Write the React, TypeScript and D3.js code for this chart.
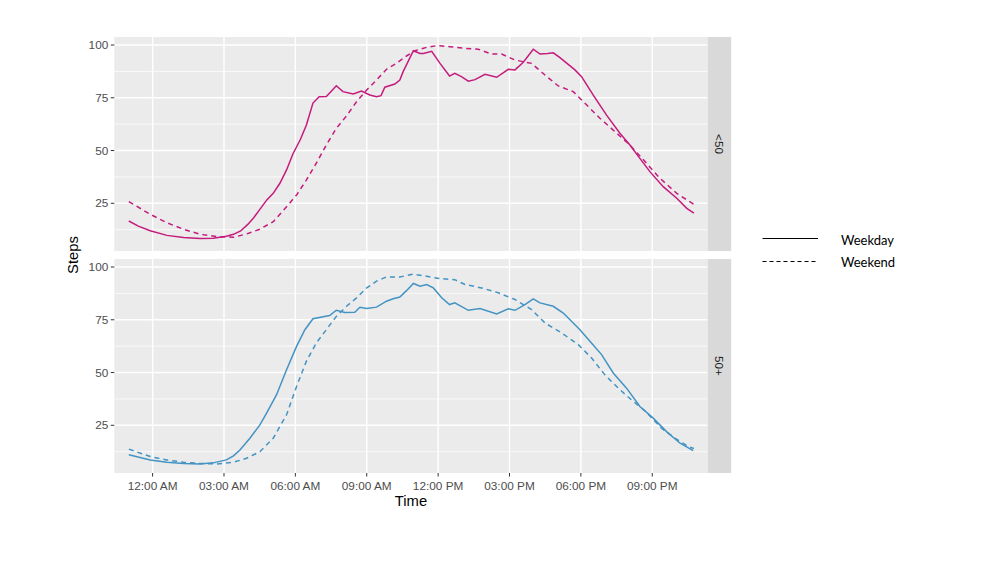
import React from 'react';
import * as d3 from 'd3';

// [hour of day, steps]
const youngWeekday: [number, number][] = [
  [-1, 16.6], [-0.6, 14.2], [-0.1, 12.0], [0.6, 9.8], [1.3, 8.8], [2.0, 8.3], [2.55, 8.4], [3.1, 9.4],
  [3.4, 10.3], [3.7, 11.9], [4.0, 15], [4.25, 18.2], [4.5, 22], [4.8, 26.6], [5.07, 29.7], [5.35, 34.5],
  [5.63, 40.8], [5.9, 48.5], [6.2, 55], [6.46, 62], [6.74, 72.5], [7.0, 75.5], [7.3, 75.6], [7.5, 78],
  [7.72, 80.7], [8.0, 77.9], [8.43, 76.8], [8.78, 78.2], [9.13, 76.3], [9.41, 75.5], [9.6, 76], [9.76, 80],
  [10.18, 81.5], [10.39, 83.4], [10.53, 87.4], [10.96, 97.3], [11.24, 96], [11.38, 96], [11.73, 97],
  [12.08, 91.3], [12.48, 85.3], [12.7, 86.6], [12.98, 85], [13.27, 82.9], [13.55, 83.6], [13.97, 86.1],
  [14.46, 84.7], [14.95, 88.5], [15.23, 88.2], [15.58, 91.8], [16.0, 98], [16.28, 95.7], [16.6, 96],
  [16.84, 96.3], [17.12, 94], [17.75, 88.2], [18.03, 85], [18.52, 76.3], [19.08, 66.8], [19.64, 58.2],
  [20.06, 52.6], [20.48, 46.3], [20.9, 40], [21.46, 32.9], [22.03, 27.4], [22.45, 22.6], [22.75, 20.3],
];

const youngWeekend: [number, number][] = [
  [-1, 25.8], [-0.1, 19.8], [0.6, 15.8], [1.3, 12.7], [2.0, 10.3], [2.7, 9.2], [3.4, 8.9], [3.95, 10.5],
  [4.5, 12.7], [5.07, 16.3], [5.63, 23.4], [6.05, 28.9], [6.46, 36], [6.88, 44], [7.3, 52.6], [7.72, 60.5],
  [8.15, 66.4], [8.57, 73.1], [9.0, 78.7], [9.41, 83.4], [9.83, 88.5], [10.25, 91.3], [10.67, 94.8],
  [11.03, 97.3], [11.52, 98.9], [11.94, 99.7], [12.48, 99.2], [13.13, 98.4], [13.69, 98], [14.25, 95.7],
  [14.67, 95.7], [15.23, 92.9], [15.93, 91.3], [16.49, 85.8], [17.05, 80.6], [17.68, 77.9], [18.17, 72.4],
  [18.8, 65.3], [19.36, 59.7], [20.06, 52.6], [20.76, 44], [21.32, 36.9], [22.03, 29.7], [22.75, 24.5],
];

const olderWeekday: [number, number][] = [
  [-1, 11], [-0.1, 8.6], [0.6, 7.5], [1.3, 6.9], [2.0, 6.7], [2.55, 7.2], [3.1, 8.6], [3.4, 10.5],
  [3.67, 13.3], [4.09, 18.9], [4.51, 25.2], [4.79, 30.8], [5.21, 39.5], [5.63, 51.3], [6.05, 62.4],
  [6.4, 70.3], [6.74, 75.5], [7.44, 77], [7.72, 79.5], [8.08, 78.5], [8.5, 78.6], [8.71, 80.9], [8.99, 80.3],
  [9.41, 81], [9.83, 83.8], [10.11, 85], [10.39, 85.8], [10.67, 88.8], [10.96, 92.2], [11.24, 90.9],
  [11.52, 91.7], [11.8, 90.1], [12.15, 85.4], [12.48, 82.2], [12.7, 83], [13.27, 79.5], [13.76, 80.3],
  [14.46, 77.8], [14.95, 80.2], [15.23, 79.5], [15.65, 82.2], [16.0, 84.9], [16.28, 83], [16.84, 81.4],
  [17.26, 78.2], [17.96, 70.3], [18.38, 64.8], [18.87, 58.5], [19.36, 49.8], [19.92, 42.6], [20.48, 33.9],
  [21.04, 28.4], [21.6, 22], [22.17, 16.5], [22.72, 13],
];

const olderWeekend: [number, number][] = [
  [-1, 13.7], [-0.1, 10.2], [0.6, 8.6], [1.3, 7.5], [2.0, 6.9], [2.7, 6.7], [3.4, 7.5], [3.95, 9.4],
  [4.51, 12.5], [5.07, 18.9], [5.63, 30], [6.05, 43.4], [6.46, 55.3], [6.88, 64], [7.3, 70.3], [7.72, 76.6],
  [8.15, 81.4], [8.57, 85.4], [9.0, 90.1], [9.41, 93.3], [9.83, 95.3], [10.39, 95.3], [10.96, 96.6],
  [11.52, 95.6], [12.08, 94.5], [12.7, 94], [13.13, 91.7], [13.83, 90.1], [14.53, 87.8], [15.23, 84.6],
  [15.93, 79.8], [16.49, 73.5], [17.19, 68.8], [17.89, 63.2], [18.45, 56.9], [19.01, 48.9], [19.57, 42.6],
  [20.13, 37], [20.69, 31.9], [21.39, 23.6], [21.95, 18.9], [22.52, 14.9], [22.75, 14],
];

const xTickHours = [0, 3, 6, 9, 12, 15, 18, 21];
const xTickLabels = ['12:00 AM', '03:00 AM', '06:00 AM', '09:00 AM', '12:00 PM', '03:00 PM', '06:00 PM', '09:00 PM'];
const yTicks = [25, 50, 75, 100];
const yMinor = [12.5, 37.5, 62.5, 87.5];

const panels = [
  { label: '<50', color: '#C51B7D', weekday: youngWeekday, weekend: youngWeekend, top: 37, bottom: 251 },
  { label: '50+', color: '#4393C3', weekday: olderWeekday, weekend: olderWeekend, top: 259, bottom: 473 },
];

const left = 114.3;
const right = 707.7;
const stripW = 23.5;
const font = '"Liberation Sans", Arial, sans-serif';

const x = d3.scaleLinear().domain([-1.61, 23.33]).range([left, right]);

const App: React.FC = () => {
  return (
    <svg width={1000} height={563} style={{ position: 'absolute', left: 0, top: 0, background: '#fff' }}>
      {panels.map((p) => {
        const y = d3.scaleLinear().domain([2.4, 103.8]).range([p.bottom, p.top]);
        const line = d3.line<[number, number]>().x((d) => x(d[0])).y((d) => y(d[1]));
        return (
          <g key={p.label}>
            <rect x={left} y={p.top} width={right - left} height={p.bottom - p.top} fill="#EBEBEB" />
            {yMinor.map((v) => (
              <line key={'m' + v} x1={left} x2={right} y1={y(v)} y2={y(v)} stroke="#fff" strokeWidth={0.7} />
            ))}
            {yTicks.map((v) => (
              <line key={'g' + v} x1={left} x2={right} y1={y(v)} y2={y(v)} stroke="#fff" strokeWidth={1.4} />
            ))}
            {xTickHours.map((h) => (
              <line key={'v' + h} x1={x(h)} x2={x(h)} y1={p.top} y2={p.bottom} stroke="#fff" strokeWidth={1.4} />
            ))}
            <path d={line(p.weekend) || ''} fill="none" stroke={p.color} strokeWidth={1.5} strokeDasharray="5,4" />
            <path d={line(p.weekday) || ''} fill="none" stroke={p.color} strokeWidth={1.5} />
            {yTicks.map((v) => (
              <g key={'t' + v}>
                <line x1={left - 3.5} x2={left} y1={y(v)} y2={y(v)} stroke="#333" strokeWidth={1} />
                <text x={left - 6} y={y(v)} textAnchor="end" dominantBaseline="central" fontFamily={font} fontSize={11.8} fill="#4D4D4D">
                  {v}
                </text>
              </g>
            ))}
            <rect x={right} y={p.top} width={stripW} height={p.bottom - p.top} fill="#D9D9D9" />
            <text
              transform={`translate(${right + stripW / 2},${(p.top + p.bottom) / 2}) rotate(90)`}
              textAnchor="middle"
              dominantBaseline="central"
              fontFamily={font}
              fontSize={11.8}
              fill="#1A1A1A"
            >
              {p.label}
            </text>
          </g>
        );
      })}
      {xTickHours.map((h, i) => (
        <g key={'xt' + h}>
          <line x1={x(h)} x2={x(h)} y1={473} y2={476.5} stroke="#333" strokeWidth={1} />
          <text x={x(h)} y={486} textAnchor="middle" dominantBaseline="central" fontFamily={font} fontSize={11.8} fill="#4D4D4D">
            {xTickLabels[i]}
          </text>
        </g>
      ))}
      <text x={(left + right) / 2} y={501} textAnchor="middle" dominantBaseline="central" fontFamily={font} fontSize={14.8} fill="#000">
        Time
      </text>
      <text
        transform={`translate(73,255) rotate(-90)`}
        textAnchor="middle"
        dominantBaseline="central"
        fontFamily={font}
        fontSize={14.8}
        fill="#000"
      >
        Steps
      </text>
      {/* legend */}
      <line x1={762.5} x2={818} y1={238.5} y2={238.5} stroke="#000" strokeWidth={1.2} />
      <line x1={762.5} x2={818} y1={261.5} y2={261.5} stroke="#000" strokeWidth={1.2} strokeDasharray="4,3" />
      <text x={841} y={240} dominantBaseline="central" fontFamily="Lato, sans-serif" fontSize={13} fill="#000">
        Weekday
      </text>
      <text x={841} y={262} dominantBaseline="central" fontFamily="Lato, sans-serif" fontSize={13} fill="#000">
        Weekend
      </text>
    </svg>
  );
};

export default App;
